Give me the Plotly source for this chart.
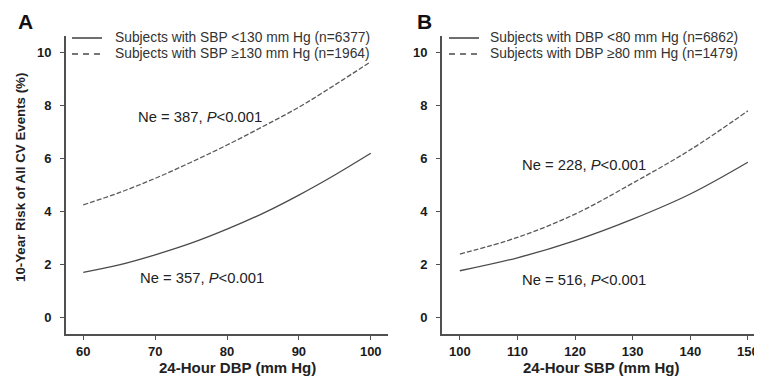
import plotly.graph_objects as go

# Panel A data: 24-hour DBP vs 10-year risk
dbp = [60, 65, 70, 75, 80, 85, 90, 95, 100]
risk_sbp_lt130 = [1.70, 1.98, 2.36, 2.80, 3.33, 3.93, 4.62, 5.38, 6.20]
risk_sbp_ge130 = [4.25, 4.71, 5.25, 5.86, 6.51, 7.21, 7.94, 8.78, 9.66]

# Panel B data: 24-hour SBP vs 10-year risk
sbp = [100, 110, 120, 130, 140, 150]
risk_dbp_lt80 = [1.76, 2.25, 2.90, 3.71, 4.66, 5.86]
risk_dbp_ge80 = [2.39, 3.02, 3.90, 5.07, 6.33, 7.80]

names_a = ["Subjects with SBP <130 mm Hg (n=6377)", "Subjects with SBP ≥130 mm Hg (n=1964)"]
names_b = ["Subjects with DBP <80 mm Hg (n=6862)", "Subjects with DBP ≥80 mm Hg (n=1479)"]

y_ticks = [0, 2, 4, 6, 8, 10]
x_ticks_a = [60, 70, 80, 90, 100]
x_ticks_b = [100, 110, 120, 130, 140, 150]

FONT = "Liberation Sans, Arial, sans-serif"
SOLID = "#4a4a4a"
DASHC = "#5a5a5a"
AXIS = "#505050"
CURVE_DASH = "5px,2px"
LEG_DASH = "6px,5px"

# page offset of the plot div (browser body margin)
OFF = 8
W, H = 754, 371


def px(x):
    return (x - OFF) / W


def py(y):
    return 1 - (y - OFF) / H


fig = go.Figure()
fig.add_trace(go.Scatter(x=dbp, y=risk_sbp_lt130, mode="lines", name=names_a[0],
                         line=dict(color=SOLID, width=1.3, shape="spline"),
                         xaxis="x", yaxis="y"))
fig.add_trace(go.Scatter(x=dbp, y=risk_sbp_ge130, mode="lines", name=names_a[1],
                         line=dict(color=DASHC, width=1.3, dash=CURVE_DASH, shape="spline"),
                         xaxis="x", yaxis="y"))
fig.add_trace(go.Scatter(x=sbp, y=risk_dbp_lt80, mode="lines", name=names_b[0],
                         line=dict(color=SOLID, width=1.3, shape="spline"),
                         xaxis="x2", yaxis="y2"))
fig.add_trace(go.Scatter(x=sbp, y=risk_dbp_ge80, mode="lines", name=names_b[1],
                         line=dict(color=DASHC, width=1.3, dash=CURVE_DASH, shape="spline"),
                         xaxis="x2", yaxis="y2"))

ydom = [py(334), py(36)]

axis_common = dict(showline=True, linecolor=AXIS, linewidth=2, ticks="outside",
                   ticklen=4, tickwidth=1.2, tickcolor=AXIS, showgrid=False,
                   zeroline=False, automargin=False,
                   tickfont=dict(family=FONT, size=13, color="#1a1a1a", weight="bold"))

x2_right = min(1.0, px(762))
x2_range_hi = 96.9 + (x2_right * W + OFF - 442) / 5.76

fig.update_layout(
    width=W, height=H,
    margin=dict(l=0, r=0, t=0, b=0, autoexpand=False),
    paper_bgcolor="white", plot_bgcolor="white",
    font=dict(family=FONT, color="#222"),
    showlegend=False,
    xaxis=dict(domain=[px(66), px(388)], range=[57.6, 102.4], tickvals=x_ticks_a,
               anchor="y", ticklabelstandoff=0, **axis_common),
    yaxis=dict(domain=ydom, range=[-0.63, 10.63], tickvals=y_ticks, anchor="x",
               ticklabelstandoff=6, **axis_common),
    xaxis2=dict(domain=[px(442), x2_right], range=[96.9, x2_range_hi], tickvals=x_ticks_b,
                anchor="y2", ticklabelstandoff=0, **axis_common),
    yaxis2=dict(domain=ydom, range=[-0.63, 10.63], tickvals=y_ticks, anchor="x2",
                ticklabelstandoff=6, **axis_common),
)

# Legend rows drawn as sample lines + text (panel-level legends)
legend_rows = [
    # (sample x0, x1, row y, text x, text, dash)
    (72, 102, 38, 113, names_a[0], None),
    (72, 102, 54, 113, names_a[1], LEG_DASH),
    (449, 479, 38, 488, names_b[0], None),
    (449, 479, 54, 488, names_b[1], LEG_DASH),
]
shapes = []
annotations = []
for x0, x1, yy, tx, txt, dsh in legend_rows:
    ln = dict(color=SOLID, width=1.6)
    if dsh:
        ln["dash"] = dsh
    shapes.append(dict(type="line", xref="paper", yref="paper",
                       x0=px(x0), x1=px(x1), y0=py(yy), y1=py(yy), line=ln))
    annotations.append(dict(text=txt, x=px(tx), y=py(yy), xref="paper", yref="paper",
                            xanchor="left", yanchor="middle", showarrow=False,
                            font=dict(family=FONT, size=13.8, color="#333")))

ann_font = dict(family=FONT, size=14.8, color="#222")


def cann(text, x, y, xref="paper", yref="paper", font=ann_font, **kw):
    return dict(text=text, x=x, y=y, xref=xref, yref=yref, xanchor="center",
                yanchor="middle", showarrow=False, font=font, **kw)


annotations += [
    cann("<b>A</b>", px(25), py(22), font=dict(family=FONT, size=21, color="#111")),
    cann("<b>B</b>", px(424), py(21), font=dict(family=FONT, size=21, color="#111")),
    cann("Ne = 387, <i>P</i><0.001", 76.2, 7.56, "x", "y"),
    cann("Ne = 357, <i>P</i><0.001", 76.5, 1.47, "x", "y"),
    cann("Ne = 228, <i>P</i><0.001", 121.6, 5.76, "x2", "y2"),
    cann("Ne = 516, <i>P</i><0.001", 121.5, 1.41, "x2", "y2"),
    cann("<b>24-Hour DBP (mm Hg)</b>", px(237), py(367.5), font=dict(family=FONT, size=15, color="#222")),
    cann("<b>24-Hour SBP (mm Hg)</b>", px(601), py(367.5), font=dict(family=FONT, size=15, color="#222")),
    cann("<b>10-Year Risk of All CV Events (%)</b>", px(20), py(178),
         font=dict(family=FONT, size=13.3, color="#222"), textangle=-90),
]
fig.update_layout(annotations=annotations, shapes=shapes)

fig.write_html("out.html")
